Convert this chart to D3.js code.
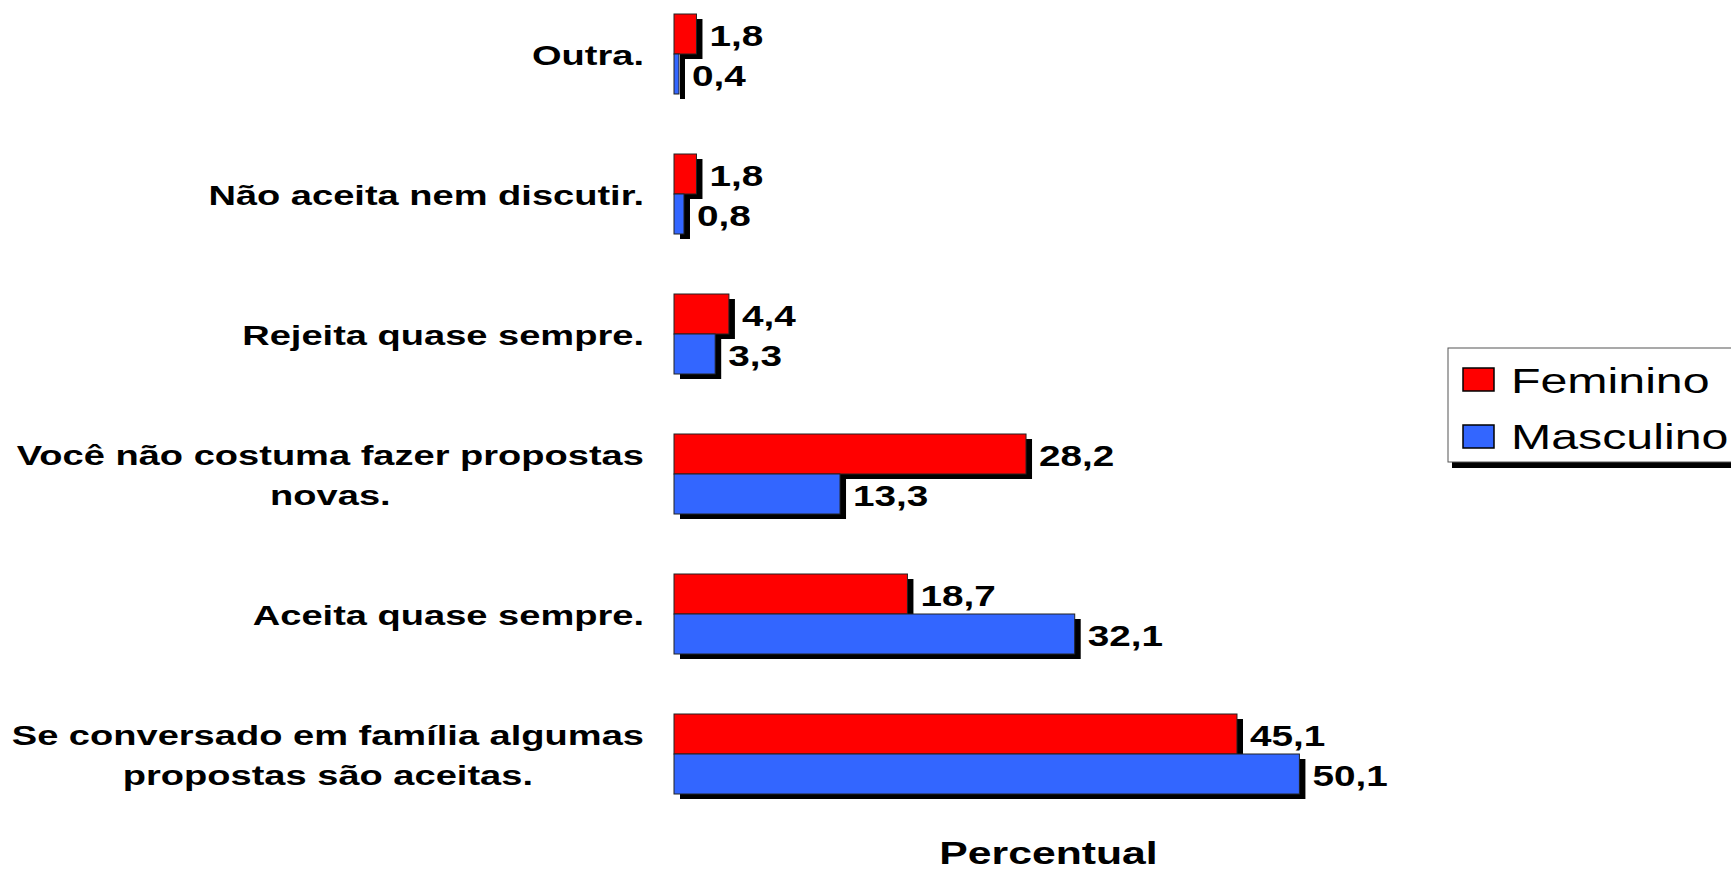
<!DOCTYPE html>
<html>
<head>
  <meta charset="UTF-8">
  <style>
    body { margin: 0; background: #fff; }
    svg { display: block; }
    text { font-family: "Liberation Sans", Arial, sans-serif; fill: #000; }
  </style>
</head>
<body>
<svg></svg>
<script src="https://d3js.org/d3.v7.min.js"></script>

<script>

let width = 1731, height = 871;

// data, top to bottom
const categories = ["Outra.", "Não aceita nem discutir.", "Rejeita quase sempre.",
    "Você não costuma fazer propostas novas.", "Aceita quase sempre.",
    "Se conversado em família algumas propostas são aceitas."];
const feminino = [1.8, 1.8, 4.4, 28.2, 18.7, 45.1];
const masculino = [0.4, 0.8, 3.3, 13.3, 32.1, 50.1];
const seriesNames = ["Feminino", "Masculino"];
const seriesColors = ["#ff0000", "#3366ff"];
const axisTitle = "Percentual";

// the original picture is stretched sideways, so text is too
const hs = 1.335;

let svg = d3.select("svg")
    .attr("width", width)
    .attr("height", height)

let x = d3.scaleLinear().domain([0, 60]).range([674, 1423]);
let y = d3.scaleBand().domain(categories).range([-16, 824])
    .paddingInner(60 / 140).paddingOuter(30 / 140);
let sub = d3.scaleBand().domain(seriesNames).range([0, y.bandwidth()]);

let fmt = v => d3.format(".1f")(v).replace(".", ",");

const series = [feminino, masculino];

function stretchedText(parent, tx, ty, str, size, weight, anchor, sx) {
    let g = parent.append("g")
        .attr("transform", "translate(" + tx + "," + ty + ") scale(" + (sx || hs) + ",1)");
    return g.append("text")
        .attr("font-size", size + "px")
        .attr("font-weight", weight)
        .attr("text-anchor", anchor)
        .text(str);
}

// bars with drop shadows
let groups = svg.append("g").selectAll("g")
    .data(categories)
    .enter()
    .append("g");

groups.each(function(cat, i) {
    let g = d3.select(this);
    seriesNames.forEach(function(name, s) {
        let v = series[s][i];
        let y0 = y(cat) + sub(name);
        g.append("rect")
            .attr("x", x(0) + 6)
            .attr("y", y0 + 5)
            .attr("width", x(v) - x(0))
            .attr("height", sub.bandwidth())
            .style("fill", "#000");
        g.append("rect")
            .attr("x", x(0))
            .attr("y", y0)
            .attr("width", x(v) - x(0))
            .attr("height", sub.bandwidth())
            .style("fill", seriesColors[s])
            .style("stroke", "#222")
            .style("stroke-width", "1px");
    });
});

// value labels
groups.each(function(cat, i) {
    let g = d3.select(this);
    seriesNames.forEach(function(name, s) {
        let v = series[s][i];
        let yc = y(cat) + sub(name) + sub.bandwidth() / 2;
        stretchedText(g, x(v) + 13, yc + 12, fmt(v), 29, "bold", "start");
    });
});

// category labels, wrapped and centred as a block that ends near the axis
let labelRight = 644, maxLabel = 650, labelSize = 28.5;
let labels = svg.append("g");
categories.forEach(function(cat) {
    let words = cat.split(" "), lines = [], line = [];
    let probe = labels.append("text").attr("font-size", labelSize + "px").attr("font-weight", "bold");
    words.forEach(function(w) {
        let trial = line.concat([w]).join(" ");
        probe.text(trial);
        if (line.length && probe.node().getComputedTextLength() * hs > maxLabel) {
            lines.push(line.join(" "));
            line = [w];
        } else {
            line.push(w);
        }
    });
    lines.push(line.join(" "));
    let widths = lines.map(function(l) {
        probe.text(l);
        return probe.node().getComputedTextLength() * hs;
    });
    probe.remove();
    let cx = labelRight - d3.max(widths) / 2;
    let yc = y(cat) + y.bandwidth() / 2;
    lines.forEach(function(l, k) {
        let ly = yc + (k - (lines.length - 1) / 2) * 40;
        stretchedText(labels, cx, ly + 11, l, labelSize, "bold", "middle");
    });
});

// axis title
stretchedText(svg, (x.range()[0] + x.range()[1]) / 2, 864, axisTitle, 32, "bold", "middle");

// legend
let legend = svg.append("g");
legend.append("rect")
    .attr("x", 1452).attr("y", 354)
    .attr("width", 320).attr("height", 114)
    .style("fill", "#000");
legend.append("rect")
    .attr("x", 1448).attr("y", 348)
    .attr("width", 320).attr("height", 114)
    .style("fill", "#fff")
    .style("stroke", "#555")
    .style("stroke-width", "1px");

let entries = legend.selectAll("g.legendEntry")
    .data(seriesNames)
    .enter()
    .append("g").attr("class", "legendEntry");

entries.append("rect")
    .attr("x", 1463)
    .attr("y", (d, i) => 368 + i * 57)
    .attr("width", 31)
    .attr("height", 23)
    .style("fill", (d, i) => seriesColors[i])
    .style("stroke", "#000")
    .style("stroke-width", "1.5px");

entries.each(function(d, i) {
    stretchedText(d3.select(this), 1511, 393 + i * 56, d, 35, "normal", "start", 1.38);
});

</script>

</body>
</html>
